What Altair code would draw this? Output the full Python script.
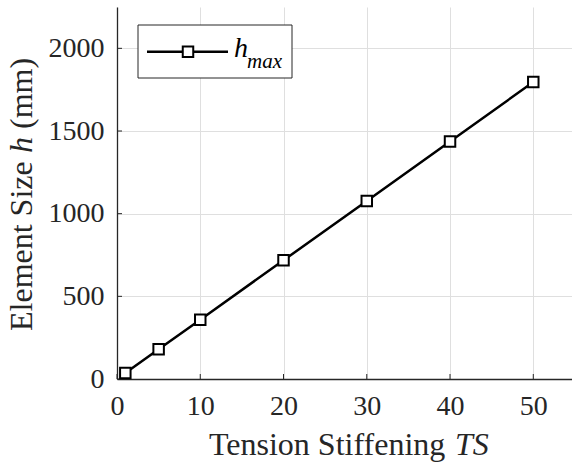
import altair as alt
import pandas as pd

# ---- data ----
ts = [1, 5, 10, 20, 30, 40, 50]
h_max = [36, 180, 359, 718, 1077, 1437, 1796]
x_ticks = [0, 10, 20, 30, 40, 50]
y_ticks = [0, 500, 1000, 1500, 2000]
x_title_parts = ["Tension Stiffening", "TS"]
y_title_parts = ["Element Size", "h", "(mm)"]
legend_parts = ["h", "max"]

W, H = 455, 372
FONT = "Liberation Serif, Times New Roman, serif"
TXT = "#262626"
GRID = "#dfdfdf"
TFS = 32

df = pd.DataFrame({"TS": ts, "h": h_max})
xs = alt.Scale(domain=[0, 54.65], nice=False, zero=False)
ys = alt.Scale(domain=[0, 2250], nice=False, zero=False)

x_axis = alt.Axis(values=x_ticks, grid=True, gridColor=GRID, gridWidth=1, ticks=False,
                  domain=True, domainColor=TXT, domainWidth=1.3, format="d",
                  labelFont=FONT, labelFontSize=28, labelColor=TXT, labelPadding=13,
                  labelFlush=False, labelOverlap=False, title=None)
y_axis = alt.Axis(values=y_ticks, grid=True, gridColor=GRID, gridWidth=1, ticks=False,
                  domain=True, domainColor=TXT, domainWidth=1.3, format="d",
                  labelFont=FONT, labelFontSize=28, labelColor=TXT, labelPadding=13,
                  labelFlush=False, labelOverlap=False, labelBaseline="middle", title=None)


def X(field):
    return alt.X(f"{field}:Q", scale=xs, axis=x_axis)


def Y(field):
    return alt.Y(f"{field}:Q", scale=ys, axis=y_axis)


line = alt.Chart(df).mark_line(color="black", strokeWidth=2.5).encode(x=X("TS"), y=Y("h"))
pts = alt.Chart(df).mark_point(shape="square", filled=True, fill="white", stroke="black",
                               strokeWidth=2, size=110, opacity=1).encode(x=X("TS"), y=Y("h"))

xt = alt.Chart(pd.DataFrame({"TS": x_ticks})).mark_rule(color=TXT, strokeWidth=1).encode(
    x=X("TS"), y=alt.value(H), y2=alt.value(H - 5))
yt = alt.Chart(pd.DataFrame({"h": y_ticks})).mark_rule(color=TXT, strokeWidth=1).encode(
    y=Y("h"), x=alt.value(0), x2=alt.value(5))

# legend (drawn by hand to allow subscript)
one = pd.DataFrame({"a": [0]})
leg_box = alt.Chart(one).mark_rect(fill="white", stroke=TXT, strokeWidth=1).encode(
    x=alt.value(21), x2=alt.value(175), y=alt.value(18), y2=alt.value(71))
leg_line = alt.Chart(one).mark_rule(color="black", strokeWidth=2.5).encode(
    x=alt.value(30), x2=alt.value(111), y=alt.value(44.7))
leg_pt = alt.Chart(one).mark_point(shape="square", filled=True, fill="white", stroke="black",
                                   strokeWidth=2, size=110, opacity=1).encode(
    x=alt.value(71), y=alt.value(44.7))
leg_h = alt.Chart(pd.DataFrame({"t": [legend_parts[0]]})).mark_text(
    font=FONT, fontSize=28, fontStyle="italic", color="black", align="left",
    baseline="alphabetic").encode(text="t:N", x=alt.value(117), y=alt.value(50))
leg_max = alt.Chart(pd.DataFrame({"t": [legend_parts[1]]})).mark_text(
    font=FONT, fontSize=21, fontStyle="italic", color="black", align="left",
    baseline="alphabetic").encode(text="t:N", x=alt.value(130), y=alt.value(61))

# axis titles (mixed roman / italic)
xt1 = alt.Chart(pd.DataFrame({"t": [x_title_parts[0]]})).mark_text(
    font=FONT, fontSize=TFS, color=TXT, align="left", baseline="alphabetic").encode(
    text="t:N", x=alt.value(92), y=alt.value(448))
xt2 = alt.Chart(pd.DataFrame({"t": [x_title_parts[1]]})).mark_text(
    font=FONT, fontSize=TFS, fontStyle="italic", color=TXT, align="left", baseline="alphabetic").encode(
    text="t:N", x=alt.value(338), y=alt.value(448))
yt1 = alt.Chart(pd.DataFrame({"t": [y_title_parts[0]]})).mark_text(
    font=FONT, fontSize=TFS, color=TXT, align="left", baseline="alphabetic", angle=270).encode(
    text="t:N", x=alt.value(-85), y=alt.value(324))
yt2 = alt.Chart(pd.DataFrame({"t": [y_title_parts[1]]})).mark_text(
    font=FONT, fontSize=TFS, fontStyle="italic", color=TXT, align="left", baseline="alphabetic", angle=270).encode(
    text="t:N", x=alt.value(-85), y=alt.value(146))
yt3 = alt.Chart(pd.DataFrame({"t": [y_title_parts[2]]})).mark_text(
    font=FONT, fontSize=TFS, color=TXT, align="left", baseline="alphabetic", angle=270).encode(
    text="t:N", x=alt.value(-85), y=alt.value(122))

chart = alt.layer(
    xt, yt, line, pts, leg_box, leg_line, leg_pt, leg_h, leg_max, xt1, xt2, yt1, yt2, yt3
).properties(
    width=W, height=H,
    autosize=alt.AutoSizeParams(type="none"),
    padding={"left": 117, "top": 7, "right": 0, "bottom": 86},
    background="white",
).configure_view(stroke=None)

chart.save("out.html", embed_options={"renderer": "svg", "actions": False})
